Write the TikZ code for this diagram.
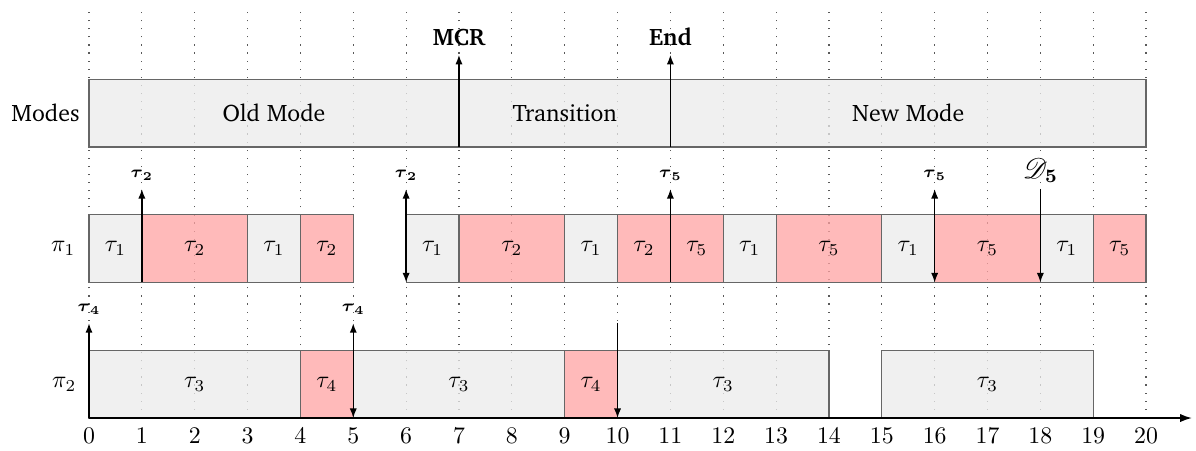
\documentclass[tikz,border=0pt]{standalone}
\usepackage[T1]{fontenc}
\usepackage{charter}
\usepackage{amsmath}
\usepackage{mathrsfs}
\usetikzlibrary{arrows.meta}
\newcommand\mycell[6]{\draw[#5] (#2,#4) rectangle (#3,#4+1); \node (#1) at ({(#2+#3)/2},#4+0.5) {#6};}
\begin{document}
\begin{tikzpicture}[x=0.78cm,y=1cm,
  cellg/.style={draw=black!60, fill=black!8, fill opacity=0.75, line width=0.5pt},
  cellr/.style={draw=black!60, fill=red!36, fill opacity=0.75, line width=0.5pt},
  gridline/.style={black!65, dash pattern=on 0.5pt off 2.9pt, line width=0.5pt},
  arr/.style={-{Latex[length=4pt,width=3pt]}, line width=0.6pt},
  darr/.style={{Latex[length=4pt,width=3pt]}-{Latex[length=4pt,width=3pt]}, line width=0.6pt},
  lab/.style={anchor=south, inner sep=3.5pt, font=\scriptsize},
  tick/.style={anchor=north, inner sep=4pt}]
\useasboundingbox (-1.3135cm,-0.472cm) rectangle (16.3365cm,6.169cm);
% grid
\foreach \i in {0,...,20} \draw[gridline] (\i,0) -- (\i,6.02);
% modes
\draw[cellg] (0,4) rectangle (20,5);
\node (old) at (3.5,4.5) {Old Mode};
\node (trans) at (9,4.5) {Transition};
\node (new) at (15.5,4.5) {New Mode};
\node[anchor=east, inner sep=0pt] (modes) at (-0.17,4.5) {Modes};
% pi1
\node[anchor=east, inner sep=0pt] (pi1) at (-0.25,2.5) {$\pi_1$};
\mycell{a1}{0}{1}{2}{cellg}{$\tau_1$}
\mycell{a2}{1}{3}{2}{cellr}{$\tau_2$}
\mycell{a3}{3}{4}{2}{cellg}{$\tau_1$}
\mycell{a4}{4}{5}{2}{cellr}{$\tau_2$}
\mycell{a5}{6}{7}{2}{cellg}{$\tau_1$}
\mycell{a6}{7}{9}{2}{cellr}{$\tau_2$}
\mycell{a7}{9}{10}{2}{cellg}{$\tau_1$}
\mycell{a8}{10}{11}{2}{cellr}{$\tau_2$}
\mycell{a9}{11}{12}{2}{cellr}{$\tau_5$}
\mycell{a10}{12}{13}{2}{cellg}{$\tau_1$}
\mycell{a11}{13}{15}{2}{cellr}{$\tau_5$}
\mycell{a12}{15}{16}{2}{cellg}{$\tau_1$}
\mycell{a13}{16}{18}{2}{cellr}{$\tau_5$}
\mycell{a14}{18}{19}{2}{cellg}{$\tau_1$}
\mycell{a15}{19}{20}{2}{cellr}{$\tau_5$}
% pi2
\node[anchor=east, inner sep=0pt] (pi2) at (-0.23,0.5) {$\pi_2$};
\mycell{b1}{0}{4}{0}{cellg}{$\tau_3$}
\mycell{b2}{4}{5}{0}{cellr}{$\tau_4$}
\mycell{b3}{5}{9}{0}{cellg}{$\tau_3$}
\mycell{b4}{9}{10}{0}{cellr}{$\tau_4$}
\mycell{b5}{10}{14}{0}{cellg}{$\tau_3$}
\mycell{b6}{15}{19}{0}{cellg}{$\tau_3$}
% axis
\coordinate (ax0) at (0,0);
\coordinate (ax1) at (20.87,0);
\draw[-{Latex[length=5pt,width=3.5pt]}, line width=0.8pt] (ax0) -- (ax1);
\foreach \i in {0,...,20} \node[tick] (t\i) at (\i,0) {$\i$};
% mode arrows
\coordinate (m7) at (7,4); \coordinate (m7t) at (7,5.36);
\node[anchor=south, inner sep=3.5pt, font=\bfseries] (mcr) at (m7t) {MCR};
\draw[arr] (m7) -- (mcr.south);
\coordinate (m11) at (11,4); \coordinate (m11t) at (11,5.36);
\node[anchor=south, inner sep=3.5pt, font=\bfseries] (endl) at (m11t) {End};
\draw[arr] (m11) -- (endl.south);
% pi1 arrows
\coordinate (p1b) at (1,2); \coordinate (p1t) at (1,3.38);
\node[lab] (l1) at (p1t) {$\boldsymbol{\tau}_{\mathbf{2}}$};
\draw[arr] (p1b) -- (l1.south);
\coordinate (p6b) at (6,2); \coordinate (p6t) at (6,3.38);
\node[lab] (l6) at (p6t) {$\boldsymbol{\tau}_{\mathbf{2}}$};
\draw[darr] (p6b) -- (l6.south);
\coordinate (p11b) at (11,2); \coordinate (p11t) at (11,3.38);
\node[lab] (l11) at (p11t) {$\boldsymbol{\tau}_{\mathbf{5}}$};
\draw[arr] (p11b) -- (l11.south);
\coordinate (p16b) at (16,2); \coordinate (p16t) at (16,3.38);
\node[lab] (l16) at (p16t) {$\boldsymbol{\tau}_{\mathbf{5}}$};
\draw[darr] (p16b) -- (l16.south);
\coordinate (p18b) at (18,2); \coordinate (p18t) at (18,3.38);
\node[anchor=south, inner sep=2.5pt, font=\large] (l18) at (p18t) {$\mathscr{D}_{\mathbf{5}}$};
\draw[arr] (l18.south) -- (p18b);
% pi2 arrows
\coordinate (q0b) at (0,0); \coordinate (q0t) at (0,1.4);
\node[lab] (k0) at (q0t) {$\boldsymbol{\tau}_{\mathbf{4}}$};
\draw[arr] (q0b) -- (k0.south);
\coordinate (q5b) at (5,0); \coordinate (q5t) at (5,1.4);
\node[lab] (k5) at (q5t) {$\boldsymbol{\tau}_{\mathbf{4}}$};
\draw[darr] (q5b) -- (k5.south);
\coordinate (q10b) at (10,0); \coordinate (q10t) at (10,1.4);
\draw[arr] (q10t) -- (q10b);
\end{tikzpicture}
\end{document}
